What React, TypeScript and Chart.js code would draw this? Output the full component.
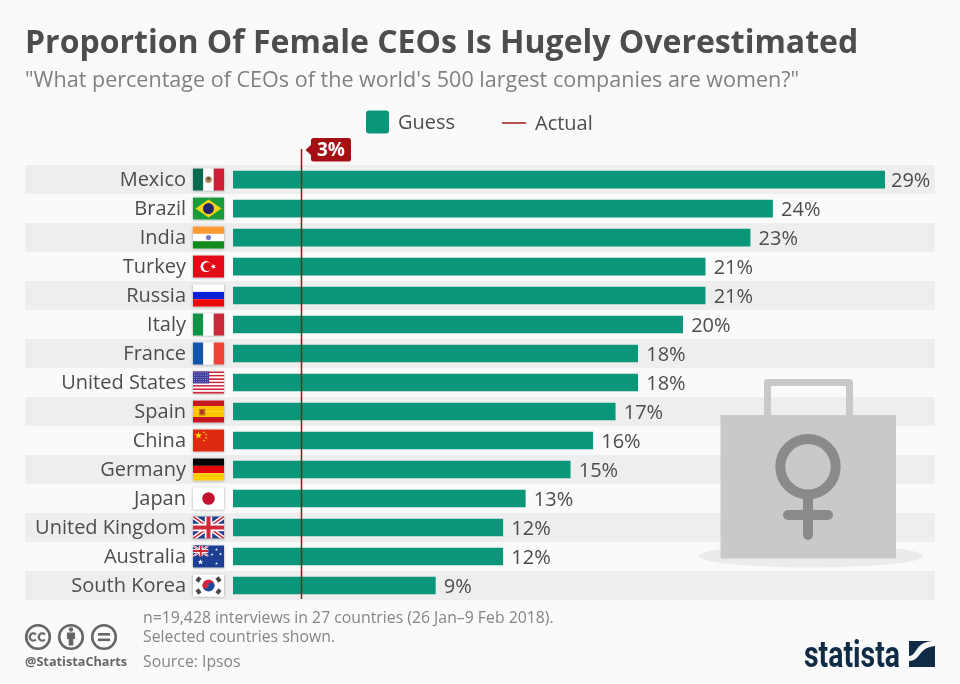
import { useEffect, useRef } from "react";
import { Chart, registerables } from "chart.js";

Chart.register(...registerables);

const titleText = "Proportion Of Female CEOs Is Hugely Overestimated";
const subtitleText = "\"What percentage of CEOs of the world's 500 largest companies are women?\"";

const countries = [
  "Mexico", "Brazil", "India", "Turkey", "Russia", "Italy", "France", "United States",
  "Spain", "China", "Germany", "Japan", "United Kingdom", "Australia", "South Korea",
];
const guessValues = [29, 24, 23, 21, 21, 20, 18, 18, 17, 16, 15, 13, 12, 12, 9];
const actualValue = 3;

const noteLines = [
  "n=19,428 interviews in 27 countries (26 Jan\u20139 Feb 2018).",
  "Selected countries shown.",
];
const sourceText = "Source: Ipsos";
const handleText = "@StatistaCharts";

const GREEN = "#0a9678";
const RED_LINE = "#8c1c20";
const RED_TAG = "#a30f12";
const TEXT = "#4d4d4d";
const FONT = "'Open Sans'";

type Ctx = CanvasRenderingContext2D;

function star(ctx: Ctx, cx: number, cy: number, r: number, color: string, rot = 0) {
  ctx.fillStyle = color;
  ctx.beginPath();
  for (let i = 0; i < 10; i++) {
    const a = rot - Math.PI / 2 + (i * Math.PI) / 5;
    const rad = i % 2 ? r * 0.42 : r;
    ctx.lineTo(cx + Math.cos(a) * rad, cy + Math.sin(a) * rad);
  }
  ctx.closePath();
  ctx.fill();
}

function dot(ctx: Ctx, cx: number, cy: number, r: number, color: string) {
  ctx.fillStyle = color;
  ctx.beginPath();
  ctx.arc(cx, cy, r, 0, Math.PI * 2);
  ctx.fill();
}

function hStripes(ctx: Ctx, x: number, y: number, w: number, h: number, colors: string[]) {
  colors.forEach((c, i) => {
    ctx.fillStyle = c;
    ctx.fillRect(x, y + (h * i) / colors.length, w, h / colors.length);
  });
}

function vStripes(ctx: Ctx, x: number, y: number, w: number, h: number, colors: string[]) {
  colors.forEach((c, i) => {
    ctx.fillStyle = c;
    ctx.fillRect(x + (w * i) / colors.length, y, w / colors.length, h);
  });
}

function unionJack(ctx: Ctx, x: number, y: number, w: number, h: number) {
  ctx.fillStyle = "#233f8c";
  ctx.fillRect(x, y, w, h);
  const cross = (color: string, lw: number) => {
    ctx.strokeStyle = color;
    ctx.lineWidth = lw;
    ctx.beginPath();
    ctx.moveTo(x, y);
    ctx.lineTo(x + w, y + h);
    ctx.moveTo(x + w, y);
    ctx.lineTo(x, y + h);
    ctx.stroke();
  };
  ctx.save();
  ctx.beginPath();
  ctx.rect(x, y, w, h);
  ctx.clip();
  cross("#ffffff", h * 0.2);
  cross("#cf2a3c", h * 0.07);
  ctx.fillStyle = "#ffffff";
  ctx.fillRect(x + w / 2 - h * 0.17, y, h * 0.34, h);
  ctx.fillRect(x, y + h * 0.33, w, h * 0.34);
  ctx.fillStyle = "#cf2a3c";
  ctx.fillRect(x + w / 2 - h * 0.09, y, h * 0.18, h);
  ctx.fillRect(x, y + h * 0.41, w, h * 0.18);
  ctx.restore();
}

const flagPainters: Record<string, (ctx: Ctx, x: number, y: number, w: number, h: number) => void> = {
  Mexico: (ctx, x, y, w, h) => {
    vStripes(ctx, x, y, w, h, ["#0a6a50", "#ffffff", "#ce1f36"]);
    dot(ctx, x + w / 2, y + h / 2, 3.4, "#b08a5e");
    dot(ctx, x + w / 2, y + h / 2 - 1, 1.5, "#5f4a2c");
  },
  Brazil: (ctx, x, y, w, h) => {
    ctx.fillStyle = "#1a9a3c";
    ctx.fillRect(x, y, w, h);
    ctx.fillStyle = "#fbd40a";
    ctx.beginPath();
    ctx.moveTo(x + 2.5, y + h / 2);
    ctx.lineTo(x + w / 2, y + 2);
    ctx.lineTo(x + w - 2.5, y + h / 2);
    ctx.lineTo(x + w / 2, y + h - 2);
    ctx.closePath();
    ctx.fill();
    dot(ctx, x + w / 2, y + h / 2, 5.5, "#24246e");
  },
  India: (ctx, x, y, w, h) => {
    hStripes(ctx, x, y, w, h, ["#ff9a33", "#ffffff", "#138a1c"]);
    dot(ctx, x + w / 2, y + h / 2, 2.6, "#7a7ac4");
  },
  Turkey: (ctx, x, y, w, h) => {
    ctx.fillStyle = "#e30a17";
    ctx.fillRect(x, y, w, h);
    dot(ctx, x + w * 0.42, y + h / 2, 5.5, "#ffffff");
    dot(ctx, x + w * 0.47, y + h / 2, 4.4, "#e30a17");
    star(ctx, x + w * 0.66, y + h / 2, 2.8, "#ffffff", -0.3);
  },
  Russia: (ctx, x, y, w, h) => hStripes(ctx, x, y, w, h, ["#ffffff", "#0a1fd6", "#ee0a0a"]),
  Italy: (ctx, x, y, w, h) => vStripes(ctx, x, y, w, h, ["#0f9146", "#ffffff", "#ca2a3a"]),
  France: (ctx, x, y, w, h) => vStripes(ctx, x, y, w, h, ["#0f55a8", "#ffffff", "#f04438"]),
  "United States": (ctx, x, y, w, h) => {
    hStripes(ctx, x, y, w, h, Array.from({ length: 13 }, (_, i) => (i % 2 ? "#ffffff" : "#d0243a")));
    ctx.fillStyle = "#3b3a9c";
    ctx.fillRect(x, y, w * 0.52, h * 0.54);
    for (let r = 0; r < 5; r++) {
      for (let c = 0; c < 7; c++) {
        ctx.fillStyle = "#b9b9e6";
        ctx.fillRect(x + 1 + c * 2.2, y + 1 + r * 2.2, 0.9, 0.9);
      }
    }
  },
  Spain: (ctx, x, y, w, h) => {
    hStripes(ctx, x, y, w, h, ["#c6161f", "#ffc400", "#ffc400", "#c6161f"]);
    ctx.fillStyle = "#b5651d";
    ctx.fillRect(x + w * 0.2, y + h * 0.38, 6, 6.5);
    ctx.fillStyle = "#a51620";
    ctx.fillRect(x + w * 0.25, y + h * 0.44, 2, 3.5);
  },
  China: (ctx, x, y, w, h) => {
    ctx.fillStyle = "#de2910";
    ctx.fillRect(x, y, w, h);
    star(ctx, x + 5.5, y + 6, 3.8, "#ffde00");
    star(ctx, x + 11, y + 2.8, 1.3, "#ffde00");
    star(ctx, x + 13.2, y + 5.3, 1.3, "#ffde00");
    star(ctx, x + 13.2, y + 8.5, 1.3, "#ffde00");
    star(ctx, x + 11, y + 11, 1.3, "#ffde00");
  },
  Germany: (ctx, x, y, w, h) => hStripes(ctx, x, y, w, h, ["#050505", "#e00a0a", "#ffcc00"]),
  Japan: (ctx, x, y, w, h) => {
    ctx.fillStyle = "#ffffff";
    ctx.fillRect(x, y, w, h);
    dot(ctx, x + w / 2, y + h / 2, 6.3, "#c4112f");
  },
  "United Kingdom": unionJack,
  Australia: (ctx, x, y, w, h) => {
    ctx.fillStyle = "#1c3f94";
    ctx.fillRect(x, y, w, h);
    unionJack(ctx, x, y, w * 0.5, h * 0.5);
    star(ctx, x + 7.5, y + 16.5, 2.8, "#ffffff");
    star(ctx, x + 23.5, y + 4, 1.5, "#ffffff");
    star(ctx, x + 19, y + 9, 1.5, "#ffffff");
    star(ctx, x + 27.5, y + 8.5, 1.5, "#ffffff");
    star(ctx, x + 23.5, y + 18, 1.5, "#ffffff");
  },
  "South Korea": (ctx, x, y, w, h) => {
    const cx = x + w / 2;
    const cy = y + h / 2;
    ctx.fillStyle = "#ffffff";
    ctx.fillRect(x, y, w, h);
    ctx.fillStyle = "#1c4a9c";
    ctx.beginPath();
    ctx.arc(cx, cy, 6, 0, Math.PI);
    ctx.fill();
    ctx.fillStyle = "#d0263c";
    ctx.beginPath();
    ctx.arc(cx, cy, 6, Math.PI, Math.PI * 2);
    ctx.fill();
    dot(ctx, cx - 3, cy, 3, "#d0263c");
    dot(ctx, cx + 3, cy, 3, "#1c4a9c");
    ctx.strokeStyle = "#4a4a4a";
    ctx.lineWidth = 4;
    [[-10, -6], [10, -6], [-10, 6], [10, 6]].forEach(([dx, dy]) => {
      const len = 2.5;
      const sign = dx * dy > 0 ? 1 : -1;
      ctx.beginPath();
      ctx.moveTo(cx + dx - len * 0.6, cy + dy + sign * len * 0.8);
      ctx.lineTo(cx + dx + len * 0.6, cy + dy - sign * len * 0.8);
      ctx.stroke();
    });
  },
};

function drawFlag(ctx: Ctx, name: string, cy: number) {
  const x = 193;
  const w = 31;
  const h = 22;
  const y = cy - 11;
  ctx.save();
  ctx.shadowColor = "rgba(0,0,0,0.35)";
  ctx.shadowBlur = 2.5;
  ctx.fillStyle = "#ffffff";
  ctx.fillRect(x, y, w, h);
  ctx.restore();
  flagPainters[name](ctx, x, y, w, h);
}

function drawBriefcase(ctx: Ctx) {
  ctx.save();
  ctx.fillStyle = "#ebebeb";
  ctx.beginPath();
  ctx.ellipse(811, 556, 112, 11.5, 0, 0, Math.PI * 2);
  ctx.fill();
  ctx.strokeStyle = "#c9c9c9";
  ctx.lineWidth = 7;
  ctx.lineJoin = "round";
  ctx.beginPath();
  ctx.moveTo(767.5, 416);
  ctx.lineTo(767.5, 382.5);
  ctx.lineTo(849.5, 382.5);
  ctx.lineTo(849.5, 416);
  ctx.stroke();
  ctx.fillStyle = "#c9c9c9";
  ctx.fillRect(720.5, 415, 175.5, 143.5);
  ctx.strokeStyle = "#8a8a8a";
  ctx.lineWidth = 10;
  ctx.lineCap = "round";
  ctx.beginPath();
  ctx.arc(808, 466.7, 27.7, 0, Math.PI * 2);
  ctx.stroke();
  ctx.beginPath();
  ctx.moveTo(808, 496);
  ctx.lineTo(808, 535);
  ctx.moveTo(788, 515);
  ctx.lineTo(828, 515);
  ctx.stroke();
  ctx.restore();
}

function drawCcIcons(ctx: Ctx) {
  const c = "#666666";
  ctx.save();
  ctx.strokeStyle = c;
  ctx.fillStyle = c;
  ctx.lineWidth = 2.6;
  [38, 71, 104].forEach((x) => {
    ctx.beginPath();
    ctx.arc(x, 637, 11.8, 0, Math.PI * 2);
    ctx.stroke();
  });
  // the two c's
  ctx.lineWidth = 2.2;
  [33.3, 42.3].forEach((x) => {
    ctx.beginPath();
    ctx.arc(x, 637, 3.6, Math.PI * 0.25, Math.PI * 1.75, false);
    ctx.stroke();
  });
  // person
  dot(ctx, 71, 629.5, 2.2, c);
  ctx.fillRect(67, 632.5, 8, 6.5);
  ctx.fillRect(68.7, 638, 4.6, 7.5);
  // equals
  ctx.fillRect(98, 633, 12, 2.6);
  ctx.fillRect(98, 638.5, 12, 2.6);
  ctx.restore();
}

function drawStatistaLogo(ctx: Ctx) {
  ctx.save();
  const navy = "#0f2b46";
  ctx.fillStyle = navy;
  ctx.font = `bold 36px Roboto`;
  ctx.textAlign = "left";
  ctx.textBaseline = "alphabetic";
  // squeezed to the width of the wordmark
  ctx.fillText("statista", 804, 667, 96);
  ctx.fillRect(909, 641, 26, 26);
  ctx.fillStyle = "#fafafa";
  ctx.beginPath();
  ctx.moveTo(909, 661);
  ctx.bezierCurveTo(922, 660, 917, 648, 935, 646);
  ctx.lineTo(935, 641);
  ctx.lineTo(932, 641);
  ctx.bezierCurveTo(914, 643, 918, 655, 909, 656);
  ctx.closePath();
  ctx.fill();
  ctx.restore();
}

const decorPlugin = {
  id: "decor",
  beforeDraw(chart: any) {
    const ctx: Ctx = chart.ctx;
    const yScale = chart.scales.y;
    const half = yScale.height / countries.length / 2;
    ctx.save();
    ctx.fillStyle = "#eeeeee";
    countries.forEach((_, i) => {
      if (i % 2 === 0) {
        ctx.fillRect(25, yScale.getPixelForValue(i) - half, 910, half * 2);
      }
    });
    ctx.restore();
  },
  afterDatasetsDraw(chart: any) {
    const ctx: Ctx = chart.ctx;
    const xScale = chart.scales.x;
    const yScale = chart.scales.y;
    ctx.save();
    // flags and value labels
    countries.forEach((name, i) => {
      const cy = yScale.getPixelForValue(i);
      drawFlag(ctx, name, cy);
      ctx.fillStyle = TEXT;
      ctx.font = `20px ${FONT}`;
      ctx.textAlign = "left";
      ctx.textBaseline = "middle";
      // the longest bar's label gets pushed back so it stays inside the band
      const labelX = Math.min(xScale.getPixelForValue(guessValues[i]) + 8.5, 891);
      ctx.fillText(`${guessValues[i]}%`, labelX, cy + 2);
    });
    // actual line and its tag
    const ax = Math.ceil(xScale.getPixelForValue(actualValue)) + 0.5;
    ctx.strokeStyle = RED_LINE;
    ctx.lineWidth = 1.5;
    ctx.beginPath();
    ctx.moveTo(ax, 149);
    ctx.lineTo(ax, 599);
    ctx.stroke();
    ctx.fillStyle = RED_TAG;
    ctx.beginPath();
    ctx.roundRect(311, 138, 40, 23.5, 2.5);
    ctx.fill();
    ctx.beginPath();
    ctx.moveTo(305.5, 150);
    ctx.lineTo(312, 144);
    ctx.lineTo(312, 156);
    ctx.closePath();
    ctx.fill();
    ctx.fillStyle = "#ffffff";
    ctx.font = `bold 19px ${FONT}`;
    ctx.textAlign = "center";
    ctx.fillText(`${actualValue}%`, 331, 150.5);
    ctx.restore();
  },
  afterDraw(chart: any) {
    const ctx: Ctx = chart.ctx;
    ctx.save();
    drawBriefcase(ctx);
    // legend
    ctx.fillStyle = GREEN;
    ctx.beginPath();
    ctx.roundRect(366, 110.5, 23, 23, 3);
    ctx.fill();
    ctx.strokeStyle = "#9c1c20";
    ctx.lineWidth = 1.5;
    ctx.beginPath();
    ctx.moveTo(502, 123);
    ctx.lineTo(526, 123);
    ctx.stroke();
    ctx.fillStyle = TEXT;
    ctx.font = `20px ${FONT}`;
    ctx.textAlign = "left";
    ctx.textBaseline = "middle";
    ctx.fillText("Guess", 398, 123);
    ctx.fillText("Actual", 535, 124);
    // footer
    ctx.fillStyle = "#858585";
    ctx.font = `15.8px ${FONT}`;
    ctx.fillText(noteLines[0], 143, 618);
    ctx.fillText(noteLines[1], 143, 637);
    ctx.fillText(sourceText, 143, 662);
    ctx.fillStyle = "#666666";
    ctx.font = `bold 12.7px ${FONT}`;
    ctx.fillText(handleText, 25, 662);
    drawCcIcons(ctx);
    drawStatistaLogo(ctx);
    ctx.restore();
  },
};

const App: React.FC = () => {
  const canvasRef = useRef<HTMLCanvasElement | null>(null);

  useEffect(() => {
    document.body.style.margin = "0";
    document.body.style.background = "#fafafa";
    if (!canvasRef.current) return;

    const myChart = new Chart(canvasRef.current, {
      type: "bar",
      data: {
        labels: countries,
        datasets: [
          {
            label: "Guess",
            data: guessValues,
            backgroundColor: GREEN,
            barThickness: 17,
            categoryPercentage: 1,
            barPercentage: 1,
          },
        ],
      },
      options: {
        indexAxis: "y",
        animation: false,
        responsive: false,
        devicePixelRatio: 1,
        layout: { padding: { left: 25, right: 75, top: 26, bottom: 84 } },
        scales: {
          x: { display: false, min: 0, max: 29 },
          y: {
            afterFit: (scale: any) => {
              scale.width = 208;
            },
            grid: { display: false, drawTicks: false },
            border: { display: false },
            ticks: {
              autoSkip: false,
              padding: 47,
              labelOffset: 1,
              color: TEXT,
              font: { family: FONT, size: 20 },
            },
          },
        },
        plugins: {
          legend: { display: false },
          tooltip: { enabled: false },
          title: {
            display: true,
            text: titleText,
            align: "start",
            color: TEXT,
            font: { family: FONT, size: 32, weight: "bold", lineHeight: 1.1 },
            padding: { top: 0, bottom: 7 },
          },
          subtitle: {
            display: true,
            text: subtitleText,
            align: "start",
            color: "#808080",
            font: { family: FONT, size: 21.55, lineHeight: 1.2 },
            padding: { top: 0, bottom: 71 },
          },
        },
      },
      plugins: [decorPlugin],
    });

    return () => {
      myChart.destroy();
    };
  }, []);

  return <canvas ref={canvasRef} width={960} height={684} style={{ display: "block" }} />;
};

export default App;
